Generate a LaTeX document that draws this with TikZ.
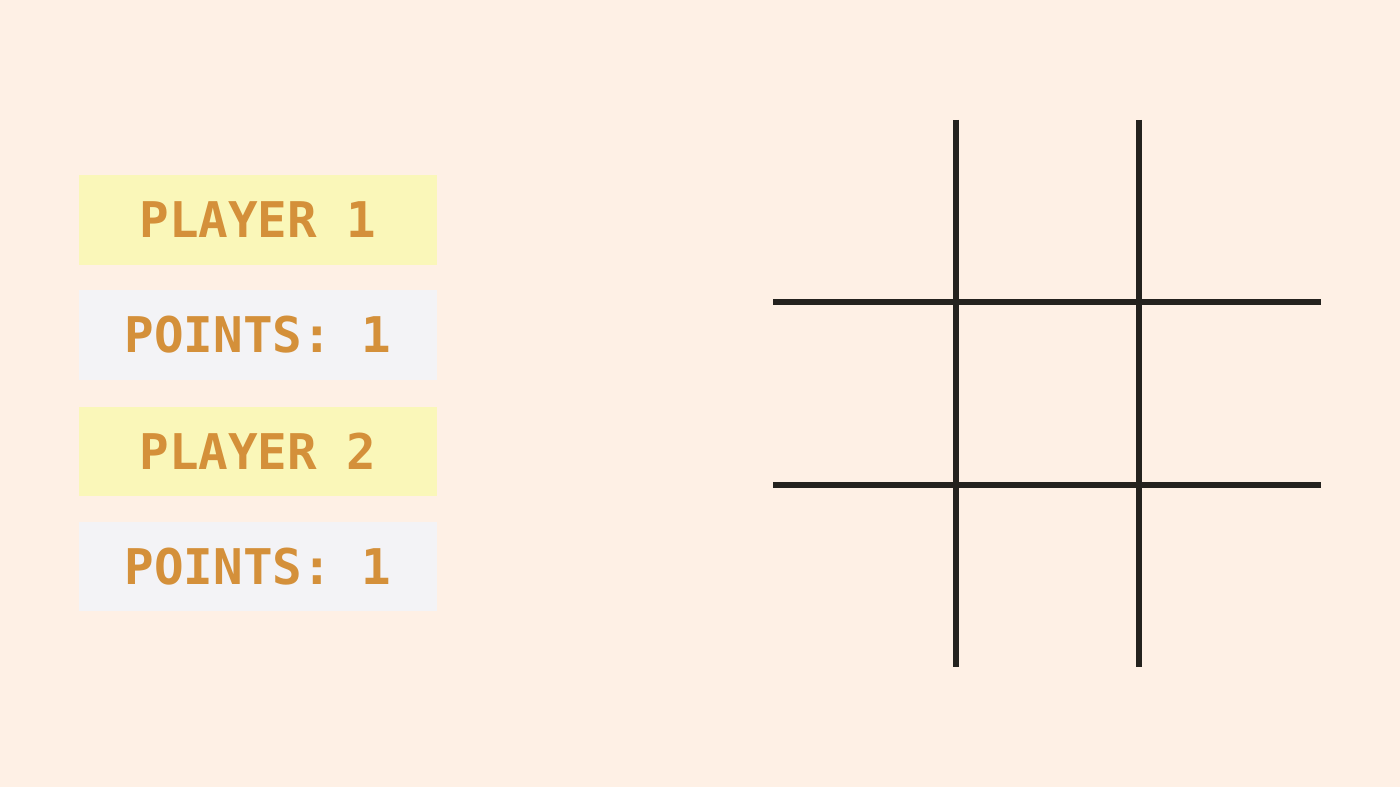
\documentclass[tikz,border=0pt]{standalone}
\usepackage{fontspec}
\newfontfamily\scorefont{DejaVu Sans Mono}
\definecolor{paper}{HTML}{FEF0E5}
\definecolor{noteyellow}{HTML}{FAF7B9}
\definecolor{notewhite}{HTML}{F3F3F6}
\definecolor{inkorange}{HTML}{D4903A}
\definecolor{gridink}{HTML}{24221E}
\begin{document}
\begin{tikzpicture}[x=0.02cm, y=-0.02cm]
    % Styles
    \tikzstyle{note} = [rectangle, draw=none, minimum width=7.16cm, minimum height=1.8cm, inner sep=0pt, text=inkorange, font=\scorefont\bfseries\fontsize{28}{30}\selectfont]
    \tikzstyle{playerbox} = [note, fill=noteyellow]
    \tikzstyle{pointsbox} = [note, fill=notewhite]
    \tikzstyle{gridline} = [draw=gridink, line width=2.9pt]

    % Background
    \fill[paper] (0, 0) rectangle (1400, 787);

    % Score notes
    \node[playerbox] (P1) at (258, 220) {PLAYER 1};
    \node[pointsbox] (S1) at (258, 335) {POINTS: 1};
    \node[playerbox] (P2) at (258, 451.5) {PLAYER 2};
    \node[pointsbox] (S2) at (258, 566.5) {POINTS: 1};

    % Board
    \draw[gridline] (956, 120) -- (956, 667);
    \draw[gridline] (1139, 120) -- (1139, 667);
    \draw[gridline] (773, 302) -- (1321, 302);
    \draw[gridline] (773, 485) -- (1321, 485);
\end{tikzpicture}
\end{document}
